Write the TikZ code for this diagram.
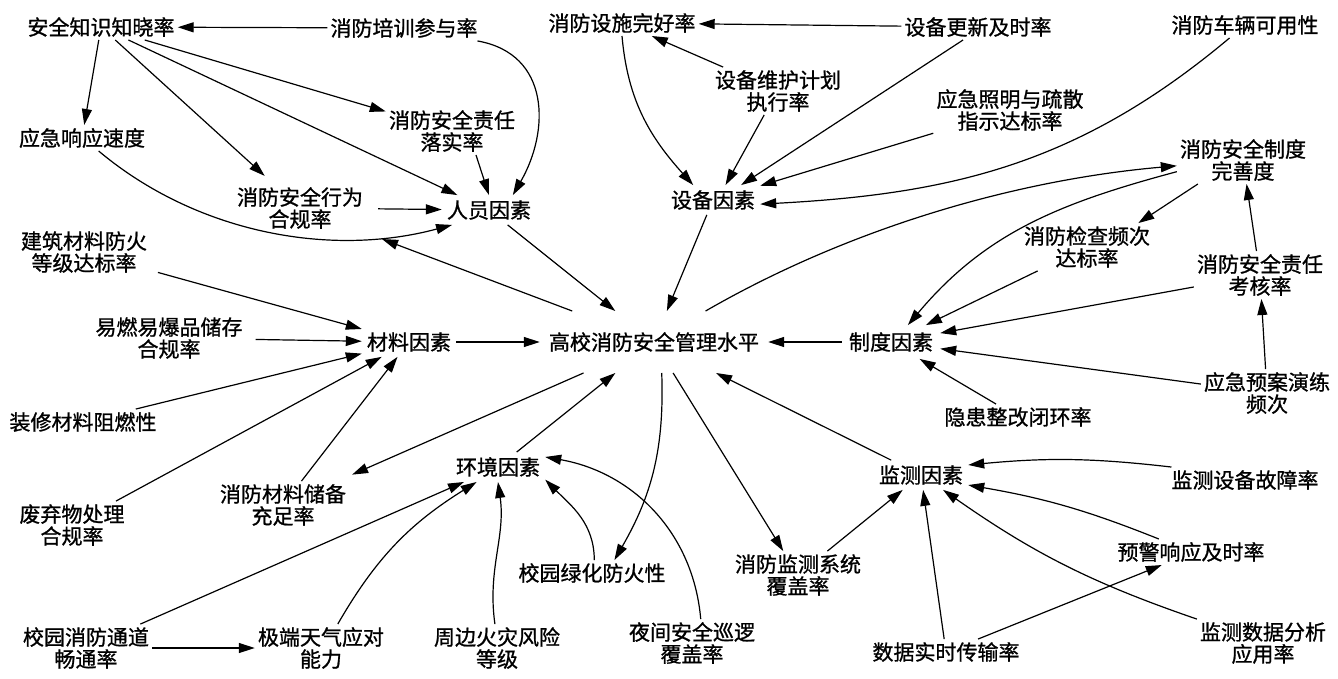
\documentclass[tikz,border=0pt]{standalone}
\usepackage{fontspec}
\newfontfamily\cjk[FakeBold=1]{Noto Sans CJK SC}
\usetikzlibrary{arrows.meta}
\begin{document}
\begin{tikzpicture}[x=1pt,y=-1pt,
  lbl/.style={font=\cjk\fontsize{21}{22}\selectfont, align=center, inner sep=3pt},
  fac/.style={lbl, inner sep=5pt},
  arr/.style={-{Triangle[length=16pt,width=10pt]}, line width=1.2pt},
]
\useasboundingbox (0,0) rectangle (1338,678);
% people
\node[lbl] (n1) at (101,27) {安全知识知晓率};
\node[lbl] (n2) at (404,28) {消防培训参与率};
\node[lbl] (n3) at (82,138) {应急响应速度};
\node[lbl] (n4) at (452,131) {消防安全责任\\落实率};
\node[lbl] (n5) at (300,208) {消防安全行为\\合规率};
\node[fac] (P) at (489,210) {人员因素};
% material
\node[lbl] (m1) at (84,252) {建筑材料防火\\等级达标率};
\node[lbl] (m2) at (169,338) {易燃易爆品储存\\合规率};
\node[lbl] (m3) at (83,422) {装修材料阻燃性};
\node[fac] (M) at (409,342) {材料因素};
\node[lbl, inner xsep=9pt, inner ysep=21pt] (C) at (654,342) {高校消防安全管理水平};
\node[lbl] (m4) at (72,525) {废弃物处理\\合规率};
\node[lbl] (m5) at (283,505) {消防材料储备\\充足率};
% environment
\node[fac] (E) at (498,467) {环境因素};
\node[lbl] (e1) at (592,573) {校园绿化防火性};
\node[lbl] (e2) at (86,648) {校园消防通道\\畅通率};
\node[lbl] (e3) at (321,648) {极端天气应对\\能力};
\node[lbl] (e4) at (497,648) {周边火灾风险\\等级};
\node[lbl] (e5) at (692,643) {夜间安全巡逻\\覆盖率};
% equipment
\node[lbl] (d1) at (622,23) {消防设施完好率};
\node[lbl] (d2) at (978,27) {设备更新及时率};
\node[lbl] (d3) at (1245,25) {消防车辆可用性};
\node[lbl] (d4) at (778,91) {设备维护计划\\执行率};
\node[lbl] (d5) at (1010,110) {应急照明与疏散\\指示达标率};
\node[fac] (D) at (713,200) {设备因素};
% system
\node[lbl] (s1) at (1243,160) {消防安全制度\\完善度};
\node[lbl] (s2) at (1087,247) {消防检查频次\\达标率};
\node[lbl] (s3) at (1260,275) {消防安全责任\\考核率};
\node[fac, inner sep=7pt] (S) at (891,342) {制度因素};
\node[lbl] (s4) at (1267,393) {应急预案演练\\频次};
\node[lbl] (s5) at (1018,417) {隐患整改闭环率};
% monitoring
\node[fac] (J) at (921,475) {监测因素};
\node[lbl] (j1) at (1245,480) {监测设备故障率};
\node[lbl] (j2) at (1191,552) {预警响应及时率};
\node[lbl] (j3) at (798,575) {消防监测系统\\覆盖率};
\node[lbl] (j4) at (946,652) {数据实时传输率};
\node[lbl] (j5) at (1263,643) {监测数据分析\\应用率};

% people edges
\draw[arr] (n2) -- (n1);
\draw[arr] (n1) -- (n3);
\draw[arr, shorten >=12pt] (n1) -- (n5);
\draw[arr] (n1) -- (P);
\draw[arr] (n1) -- (n4);
\draw[arr] (n2.-10) to[out=-10,in=60,looseness=1.2] (P.32);
\draw[arr] (n4.-45) -- (P.north);
\draw[arr, shorten <=12pt] (n5) -- (P);
\draw[arr] (n3.-38) to[out=-40,in=195,looseness=0.9] (P.202);
\draw[arr, shorten >=20pt] (C) -- (n5);
\draw[arr] (P) -- (C);
% material edges
\draw[arr, shorten <=8pt] (m1) -- (M);
\draw[arr, shorten <=10pt] (m2) -- (M);
\draw[arr] (m3) -- (M);
\draw[arr] (m4) -- (M);
\draw[arr] (m5) -- (M);
\draw[arr] (M) -- (C);
\draw[arr, shorten >=16pt] (C) -- (m5);
% environment edges
\draw[arr] (E) -- (C);
\draw[arr] (C.-76) to[out=-88,in=60] (e1.30);
\draw[arr] (e1.80) to[out=90,in=-45] (E.-15);
\draw[arr] (e5.70) to[out=95,in=-10] (E.12);
\draw[arr] (e2) -- (E);
\draw[arr] (e3.55) to[out=60,in=-148] (E.-145);
\draw[arr] (e4.95) to[out=98,in=-82] (E.-90);
\draw[arr] (e2) -- (e3);
% equipment edges
\draw[arr] (d2) -- (d1);
\draw[arr] (d4) -- (d1);
\draw[arr] (d1.south) to[out=-85,in=132] (D.143);
\draw[arr] (d4.-120) -- (D.50);
\draw[arr] (d2.-139) -- (D.28);
\draw[arr] (d5) -- (D);
\draw[arr] (d3.-140) to[out=-140,in=3] (D.-5);
\draw[arr] (D) -- (C);
% system edges
\draw[arr] (C.31) to[out=30,in=185,looseness=0.85] (s1.185);
\draw[arr] (s1.190) to[out=195,in=50] (S.45);
\draw[arr] (s1.-152) -- (s2.25);
\draw[arr] (s3) -- (s1);
\draw[arr] (s2) -- (S);
\draw[arr] (s3) -- (S);
\draw[arr] (s4) -- (S);
\draw[arr] (s5) -- (S);
\draw[arr] (s4) -- (s3);
\draw[arr] (S) -- (C);
% monitoring edges
\draw[arr] (J) -- (C);
\draw[arr] (C) -- (j3);
\draw[arr] (j3) -- (J);
\draw[arr] (j1.170) to[bend right=6] (J.12);
\draw[arr] (j2.158) to[bend right=6] (J.-12);
\draw[arr] (j4) -- (J);
\draw[arr] (j4.22) -- (j2.-156);
\draw[arr] (j5.north west) to[bend left=8] (J.-34);
\end{tikzpicture}
\end{document}
